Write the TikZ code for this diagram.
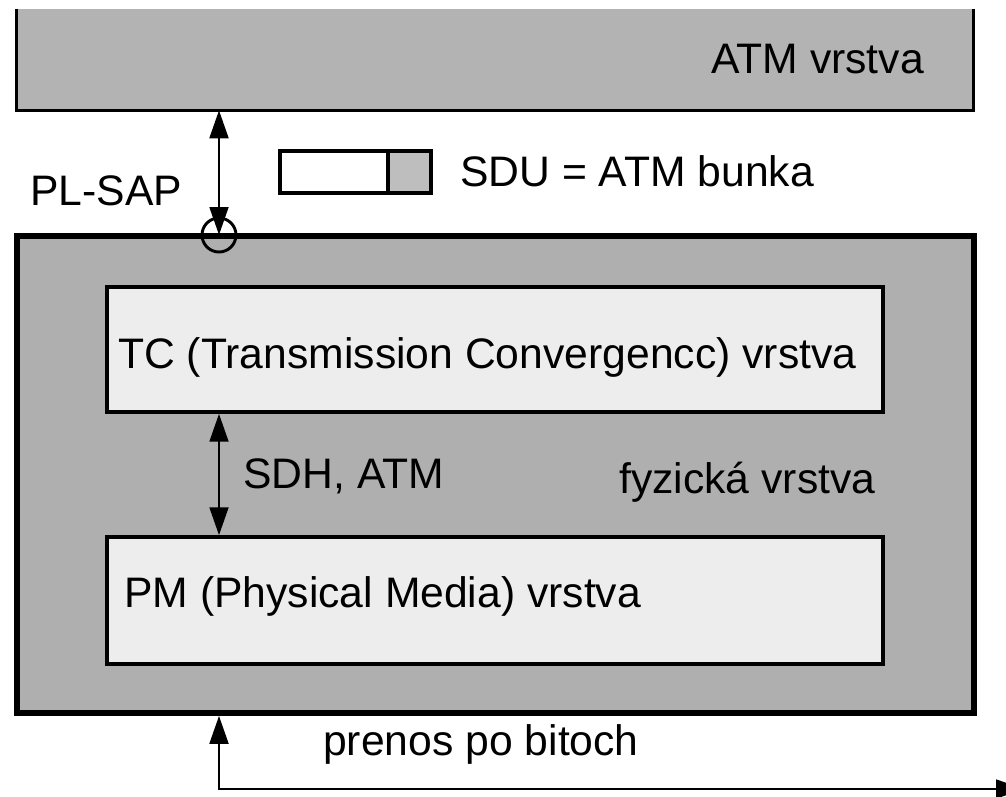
\documentclass[tikz,border=0pt]{standalone}
\usepackage{fontspec}
\setmainfont{Liberation Sans}
\usetikzlibrary{fit,arrows.meta}
\definecolor{outergray}{HTML}{B3B3B3}
\definecolor{physgray}{HTML}{AFAFAF}
\definecolor{innergray}{HTML}{EDEDED}
\definecolor{cellgray}{HTML}{BEBEBE}
\tikzset{
  lbl/.style={anchor=base west, inner sep=0pt, font=\fontsize{32}{38}\selectfont},
  layerbox/.style={draw, line width=2.6pt, fill=innergray, inner sep=0pt},
  physbox/.style={draw, line width=4.2pt, fill=physgray, inner sep=0pt},
  cellbox/.style={draw, line width=2.8pt, inner sep=0pt},
  conn/.style={line width=2.2pt, arrows={Triangle[length=21pt,width=14pt]-Triangle[length=21pt,width=14pt]}},
}
\begin{document}
\begin{tikzpicture}[x=0.75pt,y=-0.75pt]
\useasboundingbox (0,0) rectangle (1006,796);
% ATM layer (cropped at the top)
\node[fit={(17,9) (973,110)}, inner sep=0pt, fill=outergray] (atm) {};
\draw[line width=2.6pt] (atm.north west) -- (atm.south west) -- (atm.south east) -- (atm.north east);
\node[lbl] (atmlbl) at (711,73) {ATM vrstva};
% physical layer
\node[physbox, fit={(17,236) (974,713)}] (phys) {};
\node[layerbox, fit={(107,287) (883,412)}] (tc) {};
\node[layerbox, fit={(107,537) (883,664)}] (pm) {};
\node[lbl] (tclbl) at (118,368) {TC (Transmission Convergencc) vrstva};
\node[lbl] (pmlbl) at (124,607) {PM (Physical Media) vrstva};
\node[lbl] (fyzlbl) at (619,493) {fyzická vrstva};
\node[lbl] (sdhlbl) at (243,488) {SDH, ATM};
% SAP
\node[circle, draw, line width=2.2pt, minimum size=25.5pt, inner sep=0pt] (sap) at (219,235) {};
\node[lbl] (saplbl) at (30,205) {PL-SAP};
% SDU cell
\node[cellbox, fill=white, fit={(280,151) (388,193)}] (sdua) {};
\node[cellbox, fill=cellgray, fit={(388,151) (431,193)}] (sdub) {};
\node[lbl] (sdulbl) at (460,186) {SDU = ATM bunka};
% connectors
\draw[conn] (sap |- atm.south) -- (sap.center);
\draw[conn] (sap |- tc.south) -- (sap |- pm.north);
\coordinate (corner) at (219,789);
\coordinate (farend) at (1024,789);
\draw[conn] (sap |- phys.south) -- (corner) -- (farend);
\node[lbl] (bitlbl) at (323,755) {prenos po bitoch};
\end{tikzpicture}
\end{document}
